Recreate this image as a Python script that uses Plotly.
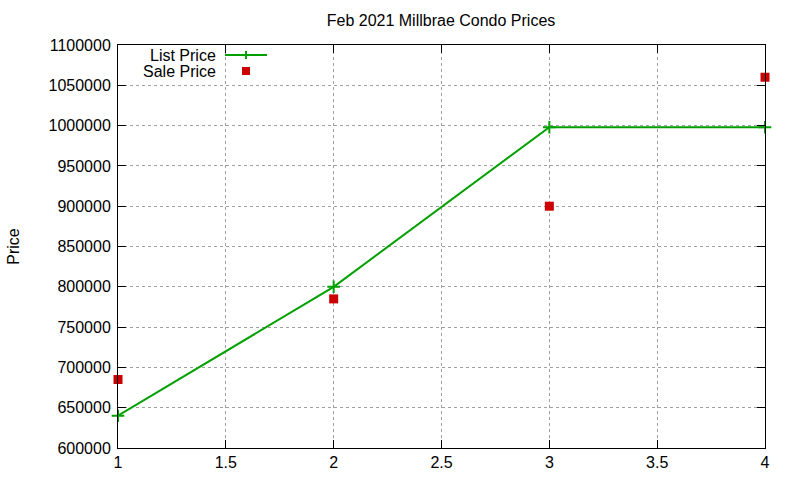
import plotly.graph_objects as go

# values
listing = [1, 2, 3, 4]
list_price = [640000, 800000, 998000, 998000]
sale_price = [685000, 785000, 900000, 1060000]

GREEN = '#00a000'
RED = '#cc0000'
FONT = 'Liberation Sans, Arial, sans-serif'

fig = go.Figure()
fig.add_trace(go.Scatter(x=listing, y=list_price, mode='lines+markers', name='List Price',
                         line=dict(color=GREEN, width=2),
                         marker=dict(symbol='cross-thin', size=9, line=dict(color=GREEN, width=2)),
                         cliponaxis=False))
fig.add_trace(go.Scatter(x=listing, y=sale_price, mode='markers', name='Sale Price',
                         marker=dict(symbol='square', size=9, color=RED),
                         cliponaxis=False))

# plot area in pixels
L, R, T, B = 118, 765, 45, 448
def px(x):
    return (x - L) / (R - L)
def py(y):
    return (B - y) / (B - T)

# gnuplot style key: text on the left, sample on the right
for label, ypix in [('List Price', 55), ('Sale Price', 71)]:
    fig.add_annotation(text=label, xref='paper', yref='paper', x=px(218), y=py(ypix),
                       xanchor='right', yanchor='middle', showarrow=False,
                       font=dict(size=16, color='black', family=FONT))

fig.add_shape(type='line', xref='paper', yref='paper', x0=px(225), x1=px(267), y0=py(55), y1=py(55),
              line=dict(color=GREEN, width=2))
fig.add_shape(type='line', xref='paper', yref='paper', x0=px(246), x1=px(246), y0=py(51), y1=py(59),
              line=dict(color=GREEN, width=2))
fig.add_shape(type='rect', xref='paper', yref='paper', x0=px(242), x1=px(250), y0=py(67), y1=py(75),
              line=dict(width=0), fillcolor=RED)

axis_style = dict(showline=True, linecolor='black', linewidth=1, mirror='ticks',
                  ticks='inside', ticklen=8, tickcolor='black',
                  showgrid=True, gridcolor='#a0a0a0', griddash='dot', gridwidth=1,
                  zeroline=False, automargin=False,
                  tickfont=dict(size=16, color='black', family=FONT))

fig.update_xaxes(range=[1, 4], dtick=0.5, tick0=1, **axis_style)
fig.update_yaxes(range=[600000, 1100000], dtick=50000, tickformat='d', ticklabelstandoff=3,
                 title=dict(text='Price', font=dict(size=16, color='black', family=FONT), standoff=24),
                 **axis_style)

W, H = 800, 480
fig.update_layout(
    width=W, height=H,
    margin=dict(l=L, r=W - R, t=T, b=H - B),
    paper_bgcolor='white', plot_bgcolor='white',
    showlegend=False,
    title=dict(text='Feb 2021 Millbrae Condo Prices', x=441 / W,
               xanchor='center', y=1 - 20 / H, yanchor='middle',
               font=dict(size=16, color='black', family=FONT)),
    font=dict(family=FONT),
)

# drop the page's default body margin so the figure fills the window
fig.write_html('out.html', config={'displayModeBar': False},
               post_script="document.body.style.margin='0';")
